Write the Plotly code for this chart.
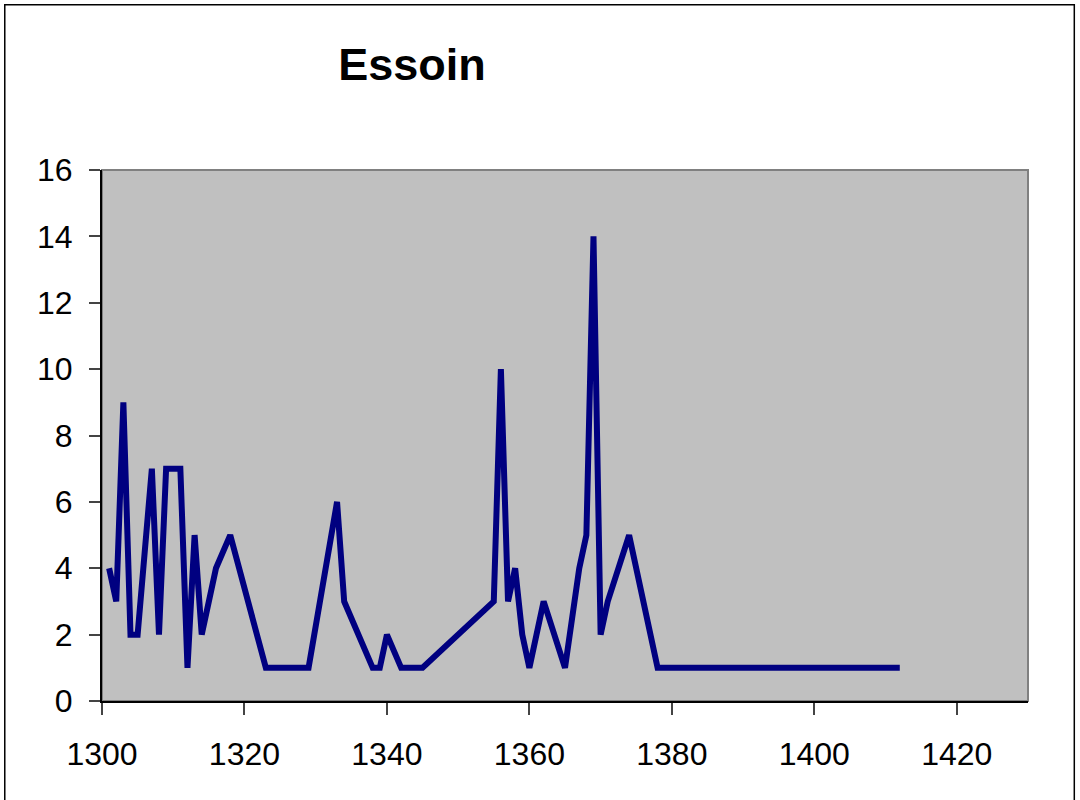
import plotly.graph_objects as go

years = [1301, 1302, 1303, 1304, 1305, 1307, 1308, 1309, 1311, 1312, 1313, 1314,
         1316, 1318, 1323, 1329, 1333, 1334, 1338, 1339, 1340, 1342, 1345, 1355,
         1356, 1357, 1358, 1359, 1360, 1362, 1365, 1367, 1368, 1369, 1370, 1371,
         1374, 1378, 1412]
counts = [4, 3, 9, 2, 2, 7, 2, 7, 7, 1, 5, 2,
          4, 5, 1, 1, 6, 3, 1, 1, 2, 1, 1, 3,
          10, 3, 4, 2, 1, 3, 1, 4, 5, 14, 2, 3,
          5, 1, 1]

x_ticks = [1300, 1320, 1340, 1360, 1380, 1400, 1420]
y_ticks = [0, 2, 4, 6, 8, 10, 12, 14, 16]

font = "Liberation Sans, Arial, sans-serif"

fig = go.Figure()
fig.add_trace(go.Scatter(x=years, y=counts, mode="lines",
                         line=dict(color="#000080", width=6),
                         showlegend=False, hoverinfo="x+y"))

fig.update_layout(
    width=1080, height=800,
    margin=dict(l=102, r=52, t=170, b=99),
    paper_bgcolor="white",
    plot_bgcolor="#C0C0C0",
    font=dict(family=font, size=32, color="black"),
    title=dict(text="<b>Essoin</b>", x=412 / 1080, xanchor="center",
               y=1 - 64 / 800, yanchor="middle",
               font=dict(family=font, size=45, color="black")),
    xaxis=dict(range=[1300, 1430], tickvals=x_ticks, showgrid=False,
               zeroline=False, showline=True, linecolor="black", linewidth=2,
               ticks="outside", ticklen=12, tickwidth=2, tickcolor="#444",
               ticklabelstandoff=12),
    yaxis=dict(range=[0, 16], tickvals=y_ticks, showgrid=False,
               zeroline=False, showline=True, linecolor="black", linewidth=2,
               ticks="outside", ticklen=11, tickwidth=2, tickcolor="#444",
               ticklabelstandoff=10),
    shapes=[
        # plot area frame (grey on top/right)
        dict(type="rect", xref="paper", yref="paper", x0=0, x1=1, y0=0, y1=1,
             line=dict(color="#808080", width=2), layer="below"),
        # outer chart border
        dict(type="rect", xref="paper", yref="paper",
             x0=-0.105, x1=1.05, y0=-0.2, y1=1.311,
             line=dict(color="black", width=1.5)),
    ],
)

# drop the default body margin so the 1080x800 figure fills the window
fig.write_html("out.html", config={"displayModeBar": False},
               post_script="document.body.style.margin = '0';")
